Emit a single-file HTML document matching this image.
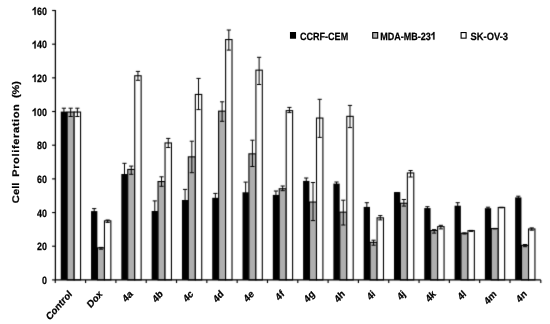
<!DOCTYPE html>
<html><head><meta charset="utf-8"><style>
html,body{margin:0;padding:0;background:#fff;width:550px;height:324px;overflow:hidden}
svg{display:block;filter:grayscale(1)}
.t{font-family:"Liberation Sans",sans-serif;font-weight:bold;font-size:10px;fill:#000;stroke:#000;stroke-width:0.25px;text-rendering:geometricPrecision}
</style></head><body>
<svg width="550" height="324" viewBox="0 0 550 324">
<defs><filter id="bl" x="0" y="0" width="1" height="1" color-interpolation-filters="sRGB"><feConvolveMatrix order="3" kernelMatrix="0.0100 0.0800 0.0100 0.0800 0.6400 0.0800 0.0100 0.0800 0.0100" divisor="1" edgeMode="duplicate"/></filter></defs>
<g filter="url(#bl)">
<rect x="0" y="0" width="550" height="324" fill="#fff"/>
<rect x="67.16" y="112.05" width="7.00" height="167.85" fill="#afafaf" stroke="#000" stroke-width="1.1"/>
<rect x="74.16" y="112.05" width="6.40" height="167.85" fill="#ffffff" stroke="#000" stroke-width="1.1"/>
<rect x="60.76" y="111.60" width="6.30" height="168.30" fill="#000000"/>
<rect x="97.45" y="247.85" width="7.00" height="32.05" fill="#afafaf" stroke="#000" stroke-width="1.1"/>
<rect x="104.45" y="220.85" width="6.40" height="59.05" fill="#ffffff" stroke="#000" stroke-width="1.1"/>
<rect x="91.05" y="211.10" width="6.30" height="68.80" fill="#000000"/>
<rect x="127.74" y="169.45" width="7.00" height="110.45" fill="#afafaf" stroke="#000" stroke-width="1.1"/>
<rect x="134.74" y="75.75" width="6.40" height="204.15" fill="#ffffff" stroke="#000" stroke-width="1.1"/>
<rect x="121.34" y="174.00" width="6.30" height="105.90" fill="#000000"/>
<rect x="158.04" y="181.55" width="7.00" height="98.35" fill="#afafaf" stroke="#000" stroke-width="1.1"/>
<rect x="165.04" y="142.95" width="6.40" height="136.95" fill="#ffffff" stroke="#000" stroke-width="1.1"/>
<rect x="151.64" y="211.00" width="6.30" height="68.90" fill="#000000"/>
<rect x="188.33" y="156.85" width="7.00" height="123.05" fill="#afafaf" stroke="#000" stroke-width="1.1"/>
<rect x="195.33" y="94.45" width="6.40" height="185.45" fill="#ffffff" stroke="#000" stroke-width="1.1"/>
<rect x="181.93" y="200.00" width="6.30" height="79.90" fill="#000000"/>
<rect x="218.62" y="111.15" width="7.00" height="168.75" fill="#afafaf" stroke="#000" stroke-width="1.1"/>
<rect x="225.62" y="39.55" width="6.40" height="240.35" fill="#ffffff" stroke="#000" stroke-width="1.1"/>
<rect x="212.22" y="197.80" width="6.30" height="82.10" fill="#000000"/>
<rect x="248.91" y="153.85" width="7.00" height="126.05" fill="#afafaf" stroke="#000" stroke-width="1.1"/>
<rect x="255.91" y="70.15" width="6.40" height="209.75" fill="#ffffff" stroke="#000" stroke-width="1.1"/>
<rect x="242.51" y="192.30" width="6.30" height="87.60" fill="#000000"/>
<rect x="279.20" y="188.75" width="7.00" height="91.15" fill="#afafaf" stroke="#000" stroke-width="1.1"/>
<rect x="286.20" y="110.65" width="6.40" height="169.25" fill="#ffffff" stroke="#000" stroke-width="1.1"/>
<rect x="272.80" y="194.90" width="6.30" height="85.00" fill="#000000"/>
<rect x="309.50" y="202.05" width="7.00" height="77.85" fill="#afafaf" stroke="#000" stroke-width="1.1"/>
<rect x="316.50" y="118.05" width="6.40" height="161.85" fill="#ffffff" stroke="#000" stroke-width="1.1"/>
<rect x="303.10" y="180.90" width="6.30" height="99.00" fill="#000000"/>
<rect x="339.79" y="212.15" width="7.00" height="67.75" fill="#afafaf" stroke="#000" stroke-width="1.1"/>
<rect x="346.79" y="116.35" width="6.40" height="163.55" fill="#ffffff" stroke="#000" stroke-width="1.1"/>
<rect x="333.39" y="183.60" width="6.30" height="96.30" fill="#000000"/>
<rect x="370.08" y="242.35" width="7.00" height="37.55" fill="#afafaf" stroke="#000" stroke-width="1.1"/>
<rect x="377.08" y="217.85" width="6.40" height="62.05" fill="#ffffff" stroke="#000" stroke-width="1.1"/>
<rect x="363.68" y="206.90" width="6.30" height="73.00" fill="#000000"/>
<rect x="400.37" y="203.25" width="7.00" height="76.65" fill="#afafaf" stroke="#000" stroke-width="1.1"/>
<rect x="407.37" y="172.95" width="6.40" height="106.95" fill="#ffffff" stroke="#000" stroke-width="1.1"/>
<rect x="393.97" y="192.10" width="6.30" height="87.80" fill="#000000"/>
<rect x="430.66" y="230.55" width="7.00" height="49.35" fill="#afafaf" stroke="#000" stroke-width="1.1"/>
<rect x="437.66" y="226.65" width="6.40" height="53.25" fill="#ffffff" stroke="#000" stroke-width="1.1"/>
<rect x="424.26" y="208.10" width="6.30" height="71.80" fill="#000000"/>
<rect x="460.96" y="233.25" width="7.00" height="46.65" fill="#afafaf" stroke="#000" stroke-width="1.1"/>
<rect x="467.96" y="230.65" width="6.40" height="49.25" fill="#ffffff" stroke="#000" stroke-width="1.1"/>
<rect x="454.56" y="205.70" width="6.30" height="74.20" fill="#000000"/>
<rect x="491.25" y="228.55" width="7.00" height="51.35" fill="#afafaf" stroke="#000" stroke-width="1.1"/>
<rect x="498.25" y="207.45" width="6.40" height="72.45" fill="#ffffff" stroke="#000" stroke-width="1.1"/>
<rect x="484.85" y="208.20" width="6.30" height="71.70" fill="#000000"/>
<rect x="521.54" y="245.35" width="7.00" height="34.55" fill="#afafaf" stroke="#000" stroke-width="1.1"/>
<rect x="528.54" y="228.95" width="6.40" height="50.95" fill="#ffffff" stroke="#000" stroke-width="1.1"/>
<rect x="515.14" y="197.40" width="6.30" height="82.50" fill="#000000"/>
<path d="M63.91 108.20V116.50M61.81 108.20H66.01M61.81 116.50H66.01" stroke="#000" stroke-width="1" fill="none"/>
<path d="M70.66 108.20V116.50M68.56 108.20H72.76M68.56 116.50H72.76" stroke="#000" stroke-width="1" fill="none"/>
<path d="M77.36 108.20V116.50M75.26 108.20H79.46M75.26 116.50H79.46" stroke="#000" stroke-width="1" fill="none"/>
<path d="M94.20 208.60V213.60M92.10 208.60H96.30M92.10 213.60H96.30" stroke="#000" stroke-width="1" fill="none"/>
<path d="M100.95 247.40V249.20M98.85 247.40H103.05M98.85 249.20H103.05" stroke="#000" stroke-width="1" fill="none"/>
<path d="M107.65 220.00V222.40M105.55 220.00H109.75M105.55 222.40H109.75" stroke="#000" stroke-width="1" fill="none"/>
<path d="M124.49 163.30V186.70M122.39 163.30H126.59M122.39 186.70H126.59" stroke="#000" stroke-width="1" fill="none"/>
<path d="M131.24 166.10V174.30M129.14 166.10H133.34M129.14 174.30H133.34" stroke="#000" stroke-width="1" fill="none"/>
<path d="M137.94 71.40V80.30M135.84 71.40H140.04M135.84 80.30H140.04" stroke="#000" stroke-width="1" fill="none"/>
<path d="M154.79 200.90V222.00M152.69 200.90H156.89M152.69 222.00H156.89" stroke="#000" stroke-width="1" fill="none"/>
<path d="M161.54 176.80V186.30M159.44 176.80H163.64M159.44 186.30H163.64" stroke="#000" stroke-width="1" fill="none"/>
<path d="M168.24 138.40V147.50M166.14 138.40H170.34M166.14 147.50H170.34" stroke="#000" stroke-width="1" fill="none"/>
<path d="M185.08 189.40V212.00M182.98 189.40H187.18M182.98 212.00H187.18" stroke="#000" stroke-width="1" fill="none"/>
<path d="M191.83 141.20V172.70M189.73 141.20H193.93M189.73 172.70H193.93" stroke="#000" stroke-width="1" fill="none"/>
<path d="M198.53 78.40V109.60M196.43 78.40H200.63M196.43 109.60H200.63" stroke="#000" stroke-width="1" fill="none"/>
<path d="M215.37 193.40V203.00M213.27 193.40H217.47M213.27 203.00H217.47" stroke="#000" stroke-width="1" fill="none"/>
<path d="M222.12 101.80V121.30M220.02 101.80H224.22M220.02 121.30H224.22" stroke="#000" stroke-width="1" fill="none"/>
<path d="M228.82 30.00V50.10M226.72 30.00H230.92M226.72 50.10H230.92" stroke="#000" stroke-width="1" fill="none"/>
<path d="M245.66 182.10V203.00M243.56 182.10H247.76M243.56 203.00H247.76" stroke="#000" stroke-width="1" fill="none"/>
<path d="M252.41 140.20V166.50M250.31 140.20H254.51M250.31 166.50H254.51" stroke="#000" stroke-width="1" fill="none"/>
<path d="M259.11 57.30V84.50M257.01 57.30H261.21M257.01 84.50H261.21" stroke="#000" stroke-width="1" fill="none"/>
<path d="M275.95 191.00V199.00M273.85 191.00H278.05M273.85 199.00H278.05" stroke="#000" stroke-width="1" fill="none"/>
<path d="M282.70 186.00V190.70M280.60 186.00H284.80M280.60 190.70H284.80" stroke="#000" stroke-width="1" fill="none"/>
<path d="M289.40 107.40V112.60M287.30 107.40H291.50M287.30 112.60H291.50" stroke="#000" stroke-width="1" fill="none"/>
<path d="M306.25 178.00V184.00M304.15 178.00H308.35M304.15 184.00H308.35" stroke="#000" stroke-width="1" fill="none"/>
<path d="M313.00 182.50V220.60M310.90 182.50H315.10M310.90 220.60H315.10" stroke="#000" stroke-width="1" fill="none"/>
<path d="M319.70 99.30V137.40M317.60 99.30H321.80M317.60 137.40H321.80" stroke="#000" stroke-width="1" fill="none"/>
<path d="M336.54 182.00V185.50M334.44 182.00H338.64M334.44 185.50H338.64" stroke="#000" stroke-width="1" fill="none"/>
<path d="M343.29 200.20V225.00M341.19 200.20H345.39M341.19 225.00H345.39" stroke="#000" stroke-width="1" fill="none"/>
<path d="M349.99 105.40V127.60M347.89 105.40H352.09M347.89 127.60H352.09" stroke="#000" stroke-width="1" fill="none"/>
<path d="M366.83 202.70V211.00M364.73 202.70H368.93M364.73 211.00H368.93" stroke="#000" stroke-width="1" fill="none"/>
<path d="M373.58 240.20V245.20M371.48 240.20H375.68M371.48 245.20H375.68" stroke="#000" stroke-width="1" fill="none"/>
<path d="M380.28 215.60V219.90M378.18 215.60H382.38M378.18 219.90H382.38" stroke="#000" stroke-width="1" fill="none"/>
<path d="M397.12 193.00V193.00M395.02 193.00H399.22M395.02 193.00H399.22" stroke="#000" stroke-width="1" fill="none"/>
<path d="M403.87 199.50V206.10M401.77 199.50H405.97M401.77 206.10H405.97" stroke="#000" stroke-width="1" fill="none"/>
<path d="M410.57 170.50V177.00M408.47 170.50H412.67M408.47 177.00H412.67" stroke="#000" stroke-width="1" fill="none"/>
<path d="M427.41 206.70V210.00M425.31 206.70H429.51M425.31 210.00H429.51" stroke="#000" stroke-width="1" fill="none"/>
<path d="M434.16 229.60V233.10M432.06 229.60H436.26M432.06 233.10H436.26" stroke="#000" stroke-width="1" fill="none"/>
<path d="M440.86 225.30V228.90M438.76 225.30H442.96M438.76 228.90H442.96" stroke="#000" stroke-width="1" fill="none"/>
<path d="M457.71 202.70V209.00M455.61 202.70H459.81M455.61 209.00H459.81" stroke="#000" stroke-width="1" fill="none"/>
<path d="M464.46 232.90V234.00M462.36 232.90H466.56M462.36 234.00H466.56" stroke="#000" stroke-width="1" fill="none"/>
<path d="M471.16 230.40V231.40M469.06 230.40H473.26M469.06 231.40H473.26" stroke="#000" stroke-width="1" fill="none"/>
<path d="M488.00 207.20V209.50M485.90 207.20H490.10M485.90 209.50H490.10" stroke="#000" stroke-width="1" fill="none"/>
<path d="M494.75 228.40V228.90M492.65 228.40H496.85M492.65 228.90H496.85" stroke="#000" stroke-width="1" fill="none"/>
<path d="M501.45 207.30V207.80M499.35 207.30H503.55M499.35 207.80H503.55" stroke="#000" stroke-width="1" fill="none"/>
<path d="M518.29 196.20V199.00M516.19 196.20H520.39M516.19 199.00H520.39" stroke="#000" stroke-width="1" fill="none"/>
<path d="M525.04 244.50V246.70M522.94 244.50H527.14M522.94 246.70H527.14" stroke="#000" stroke-width="1" fill="none"/>
<path d="M531.74 227.90V230.20M529.64 227.90H533.84M529.64 230.20H533.84" stroke="#000" stroke-width="1" fill="none"/>
<path d="M55.40 10.00V279.90H540.80" stroke="#000" stroke-width="1.25" fill="none"/>
<path d="M52.10 279.90H55.40" stroke="#000" stroke-width="1.15"/>
<path d="M52.10 246.22H55.40" stroke="#000" stroke-width="1.15"/>
<path d="M52.10 212.55H55.40" stroke="#000" stroke-width="1.15"/>
<path d="M52.10 178.88H55.40" stroke="#000" stroke-width="1.15"/>
<path d="M52.10 145.20H55.40" stroke="#000" stroke-width="1.15"/>
<path d="M52.10 111.52H55.40" stroke="#000" stroke-width="1.15"/>
<path d="M52.10 77.85H55.40" stroke="#000" stroke-width="1.15"/>
<path d="M52.10 44.18H55.40" stroke="#000" stroke-width="1.15"/>
<path d="M52.10 10.50H55.40" stroke="#000" stroke-width="1.15"/>
<path d="M55.27 279.90V283.00" stroke="#000" stroke-width="1.15"/>
<path d="M85.59 279.90V283.00" stroke="#000" stroke-width="1.15"/>
<path d="M115.90 279.90V283.00" stroke="#000" stroke-width="1.15"/>
<path d="M146.22 279.90V283.00" stroke="#000" stroke-width="1.15"/>
<path d="M176.53 279.90V283.00" stroke="#000" stroke-width="1.15"/>
<path d="M206.85 279.90V283.00" stroke="#000" stroke-width="1.15"/>
<path d="M237.16 279.90V283.00" stroke="#000" stroke-width="1.15"/>
<path d="M267.48 279.90V283.00" stroke="#000" stroke-width="1.15"/>
<path d="M297.79 279.90V283.00" stroke="#000" stroke-width="1.15"/>
<path d="M328.11 279.90V283.00" stroke="#000" stroke-width="1.15"/>
<path d="M358.42 279.90V283.00" stroke="#000" stroke-width="1.15"/>
<path d="M388.74 279.90V283.00" stroke="#000" stroke-width="1.15"/>
<path d="M419.05 279.90V283.00" stroke="#000" stroke-width="1.15"/>
<path d="M449.37 279.90V283.00" stroke="#000" stroke-width="1.15"/>
<path d="M479.68 279.90V283.00" stroke="#000" stroke-width="1.15"/>
<path d="M510.00 279.90V283.00" stroke="#000" stroke-width="1.15"/>
<path d="M540.80 279.90V283.00" stroke="#000" stroke-width="1.15"/>
</g>
<text text-anchor="end" class="t" style="font-size:10.6px" transform="translate(47.0 284.10) scale(0.84 1)">0</text>
<text text-anchor="end" class="t" style="font-size:10.6px" transform="translate(47.0 250.42) scale(0.84 1)">20</text>
<text text-anchor="end" class="t" style="font-size:10.6px" transform="translate(47.0 216.75) scale(0.84 1)">40</text>
<text text-anchor="end" class="t" style="font-size:10.6px" transform="translate(47.0 183.07) scale(0.84 1)">60</text>
<text text-anchor="end" class="t" style="font-size:10.6px" transform="translate(47.0 149.40) scale(0.84 1)">80</text>
<g transform="translate(47.0 115.72) scale(0.84 1)"><text text-anchor="end" class="t" style="font-size:10.6px">00</text><path class="t" vector-effect="non-scaling-stroke" style="stroke-width:0.3px" transform="translate(-17.681 0) scale(0.005176 -0.005176)" d="M812 0H531V1057Q330 880 104 818V1080Q300 1150 450 1290Q540 1380 590 1466H812Z"/></g>
<g transform="translate(47.0 82.05) scale(0.84 1)"><text text-anchor="end" class="t" style="font-size:10.6px">20</text><path class="t" vector-effect="non-scaling-stroke" style="stroke-width:0.3px" transform="translate(-17.681 0) scale(0.005176 -0.005176)" d="M812 0H531V1057Q330 880 104 818V1080Q300 1150 450 1290Q540 1380 590 1466H812Z"/></g>
<g transform="translate(47.0 48.38) scale(0.84 1)"><text text-anchor="end" class="t" style="font-size:10.6px">40</text><path class="t" vector-effect="non-scaling-stroke" style="stroke-width:0.3px" transform="translate(-17.681 0) scale(0.005176 -0.005176)" d="M812 0H531V1057Q330 880 104 818V1080Q300 1150 450 1290Q540 1380 590 1466H812Z"/></g>
<g transform="translate(47.0 14.70) scale(0.84 1)"><text text-anchor="end" class="t" style="font-size:10.6px">60</text><path class="t" vector-effect="non-scaling-stroke" style="stroke-width:0.3px" transform="translate(-17.681 0) scale(0.005176 -0.005176)" d="M812 0H531V1057Q330 880 104 818V1080Q300 1150 450 1290Q540 1380 590 1466H812Z"/></g>
<text text-anchor="end" class="t" style="font-size:10.4px" transform="translate(72.63 294.60) scale(0.88 1) rotate(-45)">Control</text>
<text text-anchor="end" class="t" style="font-size:10.4px" transform="translate(102.94 294.60) scale(0.88 1) rotate(-45)">Dox</text>
<text text-anchor="end" class="t" style="font-size:10.4px" transform="translate(133.26 294.60) scale(0.88 1) rotate(-45)">4a</text>
<text text-anchor="end" class="t" style="font-size:10.4px" transform="translate(163.57 294.60) scale(0.88 1) rotate(-45)">4b</text>
<text text-anchor="end" class="t" style="font-size:10.4px" transform="translate(193.89 294.60) scale(0.88 1) rotate(-45)">4c</text>
<text text-anchor="end" class="t" style="font-size:10.4px" transform="translate(224.20 294.60) scale(0.88 1) rotate(-45)">4d</text>
<text text-anchor="end" class="t" style="font-size:10.4px" transform="translate(254.52 294.60) scale(0.88 1) rotate(-45)">4e</text>
<text text-anchor="end" class="t" style="font-size:10.4px" transform="translate(284.83 294.60) scale(0.88 1) rotate(-45)">4f</text>
<text text-anchor="end" class="t" style="font-size:10.4px" transform="translate(315.15 294.60) scale(0.88 1) rotate(-45)">4g</text>
<text text-anchor="end" class="t" style="font-size:10.4px" transform="translate(345.46 294.60) scale(0.88 1) rotate(-45)">4h</text>
<text text-anchor="end" class="t" style="font-size:10.4px" transform="translate(375.78 294.60) scale(0.88 1) rotate(-45)">4i</text>
<text text-anchor="end" class="t" style="font-size:10.4px" transform="translate(406.09 294.60) scale(0.88 1) rotate(-45)">4j</text>
<text text-anchor="end" class="t" style="font-size:10.4px" transform="translate(436.41 294.60) scale(0.88 1) rotate(-45)">4k</text>
<text text-anchor="end" class="t" style="font-size:10.4px" transform="translate(466.72 294.60) scale(0.88 1) rotate(-45)">4l</text>
<text text-anchor="end" class="t" style="font-size:10.4px" transform="translate(497.04 294.60) scale(0.88 1) rotate(-45)">4m</text>
<text text-anchor="end" class="t" style="font-size:10.4px" transform="translate(527.35 294.60) scale(0.88 1) rotate(-45)">4n</text>
<g transform="translate(18.8 0) scale(0.88 1) rotate(-90)" class="t" style="font-size:11px">
<text x="-203.20" y="0" textLength="20.60" lengthAdjust="spacing">Cell</text>
<text x="-176.80" y="0" textLength="72.60" lengthAdjust="spacing">Proliferation</text>
<text x="-98.00" y="0" textLength="17.00" lengthAdjust="spacing">(%)</text>
</g>
<rect x="290.50" y="32.55" width="5.0" height="5.6" fill="#000" stroke="#000" stroke-width="1.1"/>
<text class="t" style="font-size:10.5px" transform="translate(300.00 39.6) scale(0.86 1)">CCRF-CEM</text>
<rect x="372.70" y="32.55" width="5.0" height="5.6" fill="#afafaf" stroke="#000" stroke-width="1.1"/>
<g transform="translate(380.20 39.6) scale(0.86 1)"><text class="t" style="font-size:10.5px">MDA-MB-23</text><path class="t" vector-effect="non-scaling-stroke" style="stroke-width:0.3px" transform="translate(58.922 0) scale(0.005127 -0.005127)" d="M812 0H531V1057Q330 880 104 818V1080Q300 1150 450 1290Q540 1380 590 1466H812Z"/></g>
<rect x="461.10" y="32.55" width="5.0" height="5.6" fill="#fff" stroke="#000" stroke-width="1.1"/>
<text class="t" style="font-size:10.5px" transform="translate(470.60 39.6) scale(0.89 1)">SK-OV-3</text>
</svg>
</body></html>
